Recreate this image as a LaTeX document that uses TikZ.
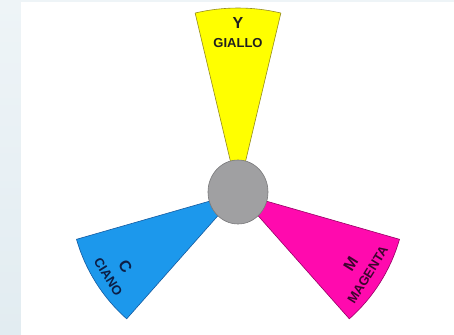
\documentclass[tikz,border=0pt]{standalone}
\usepackage{fontspec}
\setmainfont{Liberation Sans}
\usetikzlibrary{positioning}

\definecolor{bgtop}{RGB}{238,244,247}
\definecolor{bgbot}{RGB}{226,236,241}
\definecolor{giallo}{RGB}{255,255,0}
\definecolor{gialloline}{RGB}{150,140,30}
\definecolor{ciano}{RGB}{28,152,236}
\definecolor{cianoline}{RGB}{20,90,160}
\definecolor{cianotext}{RGB}{12,30,70}
\definecolor{magenta}{RGB}{255,10,174}
\definecolor{magentaline}{RGB}{150,0,100}
\definecolor{magentatext}{RGB}{60,5,45}
\definecolor{hubgray}{RGB}{160,160,162}
\definecolor{hubline}{RGB}{120,120,122}

\newcommand{\bigletter}[1]{{\fontsize{16}{19}\selectfont #1}}

\tikzset{
  pairtxt/.style={font=\bfseries\fontsize{13}{19}\selectfont,inner sep=0pt,align=center},
  petal/.style={line width=0.6pt,line join=round}
}

\begin{document}
\begin{tikzpicture}[x=1pt,y=1pt]
    % Background
    \fill[white] (-238,-141) rectangle (216,193);
    \shade[top color=bgtop,bottom color=bgbot] (-238,-141) rectangle (-217,193);
    \fill[bgtop] (-217,191) rectangle (216,193);
    \useasboundingbox (-238,-141) rectangle (216,193);

    % Yellow
    \filldraw[petal,fill=giallo,draw=gialloline] (0,0) -- (76.6:185)
        arc[start angle=76.6,end angle=103.4,radius=185] -- cycle;

    % Cyan
    \filldraw[petal,fill=ciano,draw=cianoline] (0,0) -- (196:168)
        arc[start angle=196,end angle=228.5,radius=168] -- cycle;

    % Magenta
    \filldraw[petal,fill=magenta,draw=magentaline] (0,0) -- (311.5:168)
        arc[start angle=311.5,end angle=344,radius=168] -- cycle;

    % Hub
    \filldraw[fill=hubgray,draw=hubline,line width=0.6pt] (0,1) ellipse [x radius=30,y radius=32];

    % Labels
    \node[pairtxt,text=black!88] (giallo) at (0,160) {\bigletter{Y}\\GIALLO};
    \node[pairtxt,text=cianotext,rotate=-58] (ciano) at (213:144) {\bigletter{C}\\CIANO};
    \node[pairtxt,text=magentatext,rotate=58] (magenta) at (327.7:143) {\bigletter{M}\\MAGENTA};
\end{tikzpicture}
\end{document}
